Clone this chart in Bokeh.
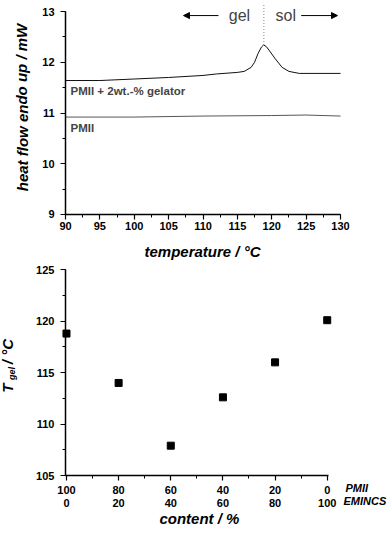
from bokeh.plotting import figure
from bokeh.layouts import column
from bokeh.models import Range1d, FixedTicker, Label, Arrow, NormalHead, LinearAxis
from bokeh.embed import file_html
from bokeh.resources import INLINE

# --- DSC data (top) ---
temp_gelator = [90, 95, 100, 105, 110, 112, 115, 116, 117, 117.5, 118, 118.5, 118.8, 119.2, 119.7, 120.5, 121.5, 122.5, 124, 126, 130]
flow_gelator = [11.64, 11.64, 11.67, 11.70, 11.74, 11.77, 11.80, 11.82, 11.90, 12.00, 12.17, 12.30, 12.34, 12.31, 12.22, 12.07, 11.90, 11.82, 11.78, 11.78, 11.78]
temp_pmii = [90, 100, 110, 120, 125, 130]
flow_pmii = [10.92, 10.92, 10.94, 10.95, 10.96, 10.94]
t_transition = 118.85
flow_peak = 12.34
temp_ticks = [90, 95, 100, 105, 110, 115, 120, 125, 130]
flow_ticks = [9, 10, 11, 12, 13]

# --- Tgel data (bottom) ---
pmii_content = [100, 80, 60, 40, 20, 0]
eminc_content = [0, 20, 40, 60, 80, 100]
t_gel = [118.8, 114.0, 107.9, 112.6, 116.0, 120.1]
tgel_ticks = [105, 110, 115, 120, 125]

FONT = "Liberation Sans"
W = 388


def make_axis(loc, ticks, minor, bounds, standoff):
    return LinearAxis(fixed_location=loc, bounds=bounds,
                      ticker=FixedTicker(ticks=ticks, minor_ticks=minor),
                      axis_line_width=1.5, axis_line_color="black",
                      major_tick_line_color="black", minor_tick_line_color="black",
                      major_tick_line_width=1.2, minor_tick_line_width=1.0,
                      major_tick_in=0, major_tick_out=5, minor_tick_in=0, minor_tick_out=3,
                      major_label_standoff=standoff,
                      major_label_text_font=FONT, major_label_text_font_style="bold",
                      major_label_text_font_size="11px", major_label_text_color="black")


def canvas_text(p, x, y, text, size, style="bold italic", angle=0.0, align="center"):
    p.add_layout(Label(x=x, y=y, x_units="canvas", y_units="canvas", text=text,
                       angle=angle, text_align=align, text_baseline="middle",
                       text_font=FONT, text_font_style=style, text_font_size=size,
                       text_color="black"))


def data_text(p, x, y, text, size, style="bold italic", angle=0.0, align="center"):
    p.add_layout(Label(x=x, y=y, text=text,
                       angle=angle, text_align=align, text_baseline="middle",
                       text_font=FONT, text_font_style=style, text_font_size=size,
                       text_color="black"))


def bare_figure(height, xr, yr):
    p = figure(width=W, height=height, output_backend="svg", toolbar_location=None,
               x_axis_location=None, y_axis_location=None,
               x_range=Range1d(*xr), y_range=Range1d(*yr),
               min_border_left=0, min_border_right=0, min_border_top=0, min_border_bottom=0)
    p.xgrid.visible = False
    p.ygrid.visible = False
    p.outline_line_color = None
    return p


# ---------------- top figure (frame covers the whole canvas) ----------------
top = bare_figure(262, (80.545, 136.98), (8.054, 13.217))
top.line(temp_gelator, flow_gelator, line_color="#111111", line_width=1)
top.line(temp_pmii, flow_pmii, line_color="#555555", line_width=1)
top.segment(x0=[t_transition], y0=[flow_peak], x1=[t_transition], y1=[13.15],
            line_color="#888888", line_dash="1 2", line_width=1)
top.add_layout(make_axis(flow_ticks[0], temp_ticks, [90 + 2.5 * i for i in range(17)],
                         (temp_ticks[0], temp_ticks[-1]), 3), "below")
top.add_layout(make_axis(temp_ticks[0], flow_ticks, [9 + 0.5 * i for i in range(9)],
                         (flow_ticks[0], flow_ticks[-1]), 6), "left")

canvas_text(top, 202, 251, "temperature / °C", "15px")
canvas_text(top, 21.5, 107, "heat flow endo up / mW", "15px", angle=1.5708)

top.add_layout(Label(x=90.73, y=11.44, text="PMII + 2wt.-% gelator", text_font=FONT,
                     text_font_style="bold", text_font_size="11.5px", text_baseline="middle"))
top.add_layout(Label(x=90.73, y=10.71, text="PMII", text_font=FONT,
                     text_font_style="bold", text_font_size="11.5px", text_baseline="middle"))
top.add_layout(Label(x=t_transition - 2.0, y=12.92, text="gel", text_font=FONT,
                     text_font_size="16px", text_align="right", text_baseline="middle"))
top.add_layout(Label(x=t_transition + 1.7, y=12.92, text="sol", text_font=FONT,
                     text_font_size="16px", text_align="left", text_baseline="middle"))
top.add_layout(Arrow(x_start=112.25, y_start=12.92, x_end=107.16, y_end=12.92,
                     line_width=1, end=NormalHead(size=6, fill_color="black", line_color="black")))
top.add_layout(Arrow(x_start=124.28, y_start=12.92, x_end=129.56, y_end=12.92,
                     line_width=1, end=NormalHead(size=6, fill_color="black", line_color="black")))

# ---------------- bottom figure (frame covers the whole canvas) ----------------
bot = bare_figure(274, (-25.3, 123.5), (99.07, 125.71))
bot.scatter(eminc_content, t_gel, marker="square", size=7, fill_color="black", line_color="black")
xax = make_axis(tgel_ticks[0], eminc_content, [10 * i for i in range(11)], (-0.384, 100.5), 3)
xax.major_label_overrides = {e: f"{p}\n{e}" for p, e in zip(pmii_content, eminc_content)}
xax.major_label_text_line_height = 1.15
bot.add_layout(xax, "below")
bot.add_layout(make_axis(-0.384, tgel_ticks, [105 + 2.5 * i for i in range(9)],
                         (tgel_ticks[0], tgel_ticks[-1]), 6), "left")

data_text(bot, 51.0, 100.82, "content / %", "15px")
data_text(bot, 107.0, 103.83, "PMII", "11px", align="left")
data_text(bot, 106.25, 102.57, "EMINCS", "11px", align="left")
# y title: T_gel / °C
data_text(bot, -22.63, 113.5, "T", "15px", angle=1.5708)
data_text(bot, -20.9, 114.91, "gel", "9px", angle=1.5708)
data_text(bot, -22.63, 117.05, "/ °C", "15px", angle=1.5708)

layout = column(top, bot)
open("out.html", "w").write(file_html(layout, INLINE))
